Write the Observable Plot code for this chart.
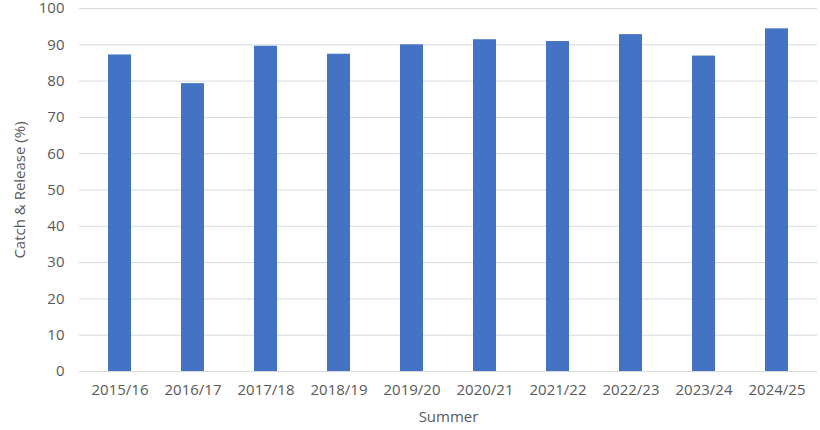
<!DOCTYPE html>
<html><head><meta charset="utf-8">
<script src="https://cdn.jsdelivr.net/npm/d3@7"></script>
<script src="https://cdn.jsdelivr.net/npm/@observablehq/plot@0.6"></script>
<style>
body{margin:0;background:#fff;}
svg{font-family:"Open Sans",sans-serif;}
</style></head><body><div id="chart"></div>
<script>
const summers = ["2015/16","2016/17","2017/18","2018/19","2019/20","2020/21","2021/22","2022/23","2023/24","2024/25"];
const releasePct = [87.2, 79.3, 89.6, 87.4, 90.0, 91.4, 90.9, 92.8, 86.9, 94.4];
const yTicks = [0,10,20,30,40,50,60,70,80,90,100];

const data = summers.map((s,i)=>({summer:s, value:releasePct[i]}));

const chart = Plot.plot({
  width: 820, height: 430,
  marginTop: 8, marginBottom: 59, marginLeft: 79, marginRight: 3,
  style:{fontSize:"15px", color:"#595959", fontFamily:"Open Sans, sans-serif", overflow:"visible"},
  x:{domain:summers, paddingInner:0.69, paddingOuter:0.345, label:null},
  y:{domain:[0,100], ticks:yTicks, label:null},
  marks:[
    Plot.gridY(yTicks,{stroke:"#d9d9d9", strokeOpacity:1, strokeWidth:1}),
    Plot.barY(data,{x:"summer", y:"value", fill:"#4472C4"}),
    Plot.ruleY([0],{stroke:"#d9d9d9", strokeWidth:1}),
    Plot.axisX({tickSize:0, tickPadding:13, fontSize:15}),
    Plot.axisY(yTicks,{tickSize:0, tickPadding:15, fontSize:15}),
    Plot.text(["Summer"],{frameAnchor:"bottom", dy:50, fontSize:15, fill:"#595959"}),
    Plot.text(["Catch & Release (%)"],{frameAnchor:"left", textAnchor:"middle", dx:-59, rotate:-90, fontSize:15, fill:"#595959"})
  ]
});
document.getElementById("chart").appendChild(chart);
</script></body></html>
